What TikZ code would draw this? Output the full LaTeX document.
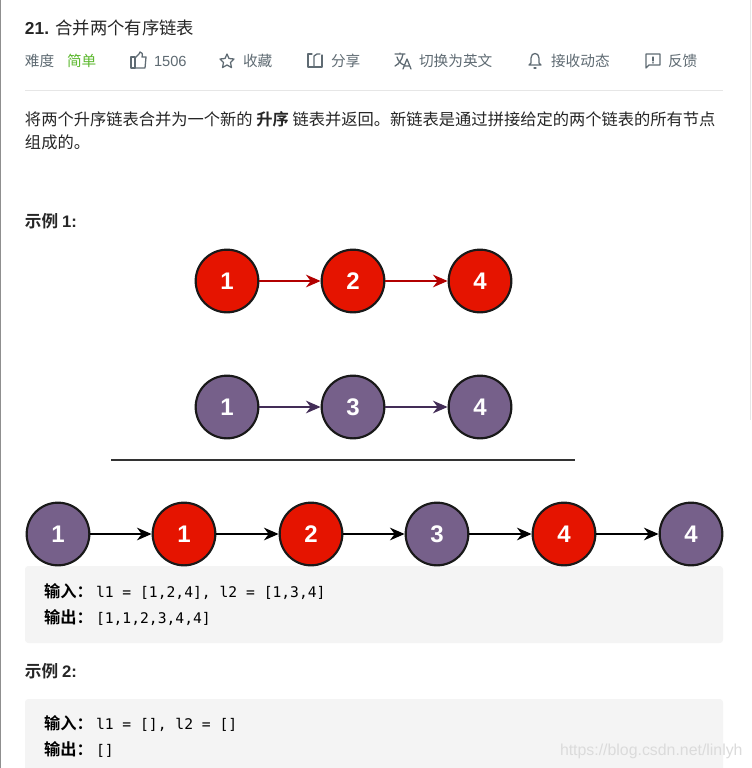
\documentclass[tikz,border=0pt]{standalone}
\usepackage{fontspec}
\setmainfont{Liberation Sans}
\newfontfamily\cjk{Noto Sans CJK SC}
\newfontfamily\cjkb{Noto Sans CJK SC}[BoldFont={Noto Sans CJK SC Bold}]
\newfontfamily\codefont{DejaVu Sans Mono}
\usetikzlibrary{arrows.meta}
\definecolor{nodered}{HTML}{E51400}
\definecolor{nodepurple}{HTML}{76608A}
\definecolor{arrowred}{HTML}{B20000}
\definecolor{arrowpurple}{HTML}{432D57}
\definecolor{inktext}{HTML}{262626}
\definecolor{metatext}{HTML}{5F6B73}
\definecolor{easygreen}{HTML}{5CB82E}
\definecolor{codebg}{HTML}{F4F4F4}
\definecolor{rulegrey}{HTML}{E6E6E6}
\definecolor{edgegrey}{HTML}{8F8F8F}
\tikzset{
  x=0.75pt,y=-0.75pt,
  listnode/.style={circle,draw=black!90,line width=1.6pt,minimum size=47pt,inner sep=0pt,text=white,font=\fontsize{18}{18}\selectfont\bfseries},
  rednode/.style={listnode,fill=nodered},
  purplenode/.style={listnode,fill=nodepurple},
  linkarrow/.style={line width=1.35pt,-{Stealth[length=11pt,width=9.5pt]}},
  txt/.style={anchor=base west,inner sep=0pt,outer sep=0pt},
  meta/.style={txt,text=metatext,font=\fontsize{11}{12}\cjk},
  body/.style={txt,text=inktext,font=\fontsize{12.2}{14}\cjk},
  exhead/.style={txt,text=inktext,font=\fontsize{12.5}{14}\cjkb\bfseries},
  codebox/.style={fill=codebg,draw=none,rounded corners=2.5pt},
  codelabel/.style={txt,text=black,font=\fontsize{12.2}{14}\cjkb\bfseries},
  codetext/.style={txt,text=black,font=\fontsize{11}{13}\codefont},
  icon/.style={draw=metatext,line width=0.95pt,line join=round,line cap=round},
}
\begin{document}
\begin{tikzpicture}
\useasboundingbox (0,0) rectangle (751,768);
\fill[white] (0,0) rectangle (751,768);
\draw[edgegrey,line width=1pt] (0.5,0) -- (0.5,768);
\draw[rulegrey,line width=0.5pt] (750.5,0) -- (750.5,420);

% header
\node[txt,text=inktext,font=\fontsize{13}{15}\selectfont] (title) at (25,34) {\textbf{21.} {\cjk 合并两个有序链表}};
\node[meta] (m1) at (25,66) {难度};
\node[meta,text=easygreen] (m2) at (67,66) {简单};
\node[meta] (m3) at (154,66) {\fontspec{Liberation Sans}\fontsize{11}{12}\selectfont 1506};
\node[meta] (m4) at (243,66) {收藏};
\node[meta] (m5) at (331,66) {分享};
\node[meta] (m6) at (419,66) {切换为英文};
\node[meta] (m7) at (551,66) {接收动态};
\node[meta] (m8) at (668,66) {反馈};

% thumb
\draw[icon] (131,57) rectangle (135,68);
\draw[icon] (135,58) -- (139,54) -- (140,52) .. controls (142,52) and (143,54) .. (142,57) -- (146,57) -- (145,68) -- (135,68);
% star
\draw[icon] (227,54) -- (229,58.5) -- (234,59) -- (230.5,62.5) -- (231.5,67.5) -- (227,65) -- (222.5,67.5) -- (223.5,62.5) -- (220,59) -- (225,58.5) -- cycle;
% share
\draw[icon] (312,54) -- (308,54) -- (308,67) -- (322,67) -- (322,55);
\draw[icon] (314,67) -- (314,56) -- (317,54) -- (320,54);
% translate
\draw[icon] (395,54) -- (405,54) (400,53) -- (400,54) (403,54) .. controls (402,60) and (399,64) .. (395,66) (397,57) .. controls (398,61) and (401,64) .. (404,65);
\draw[icon] (403,69) -- (407,59) -- (411,69) (404.5,66) -- (409.5,66);
% bell
\draw[icon] (529,65) -- (531,63) -- (531,58) .. controls (531,52) and (539,52) .. (539,58) -- (539,63) -- (541,65) -- cycle;
\draw[icon] (534,68) -- (536,68);
% feedback
\draw[icon] (646,54) -- (660,54) -- (660,65) -- (649,65) -- (646,68) -- cycle;
\draw[icon] (653,57) -- (653,61) (653,62.7) -- (653,63);

\draw[rulegrey,line width=0.75pt] (25,90.5) -- (723,90.5);

% description
\node[body] (d1) at (25,125) {将两个升序链表合并为一个新的 {\cjkb\bfseries 升序} 链表并返回。新链表是通过拼接给定的两个链表的所有节点};
\node[body] (d2) at (25,148) {组成的。};
\node[exhead] (ex1) at (25,227) {示例 {\fontspec{Liberation Sans}\bfseries 1:}};

% list 1
\node[rednode] (a1) at (227,281) {1};
\node[rednode] (a2) at (353,281) {2};
\node[rednode] (a3) at (480,281) {4};
\draw[linkarrow,arrowred] (a1) -- (a2);
\draw[linkarrow,arrowred] (a2) -- (a3);

% list 2
\node[purplenode] (b1) at (227,407) {1};
\node[purplenode] (b2) at (353,407) {3};
\node[purplenode] (b3) at (480,407) {4};
\draw[linkarrow,arrowpurple] (b1) -- (b2);
\draw[linkarrow,arrowpurple] (b2) -- (b3);

% separator
\coordinate (sepL) at (111,460);
\coordinate (sepR) at (575,460);
\draw[black!80,line width=1.8pt] (sepL) -- (sepR);

% code boxes (first, so the circles sit on top)
\fill[codebox] (25,566) rectangle (723,643);
\fill[codebox] (25,699) rectangle (723,775);

% merged
\node[purplenode] (c1) at (58,534) {1};
\node[rednode] (c2) at (184,534) {1};
\node[rednode] (c3) at (311,534) {2};
\node[purplenode] (c4) at (437,534) {3};
\node[rednode] (c5) at (564,534) {4};
\node[purplenode] (c6) at (691,534) {4};
\foreach \u/\v in {c1/c2,c2/c3,c3/c4,c4/c5,c5/c6}{\draw[linkarrow,black] (\u) -- (\v);}

% example 1 code
\node[codelabel] (i1) at (44,597) {输入：};
\node[codetext] (i1t) at (96,597) {l1 = [1,2,4], l2 = [1,3,4]};
\node[codelabel] (o1) at (44,623) {输出：};
\node[codetext] (o1t) at (96,623) {[1,1,2,3,4,4]};

\node[exhead] (ex2) at (25,677) {示例 {\fontspec{Liberation Sans}\bfseries 2:}};

% example 2 code
\node[codelabel] (i2) at (44,729) {输入：};
\node[codetext] (i2t) at (96,729) {l1 = [], l2 = []};
\node[codelabel] (o2) at (44,755) {输出：};
\node[codetext] (o2t) at (96,755) {[]};

% watermark
\node[txt,text=black!14,font=\fontsize{11.9}{14}\selectfont] (wm) at (560,755) {https://blog.csdn.net/linlyh};
\end{tikzpicture}
\end{document}
